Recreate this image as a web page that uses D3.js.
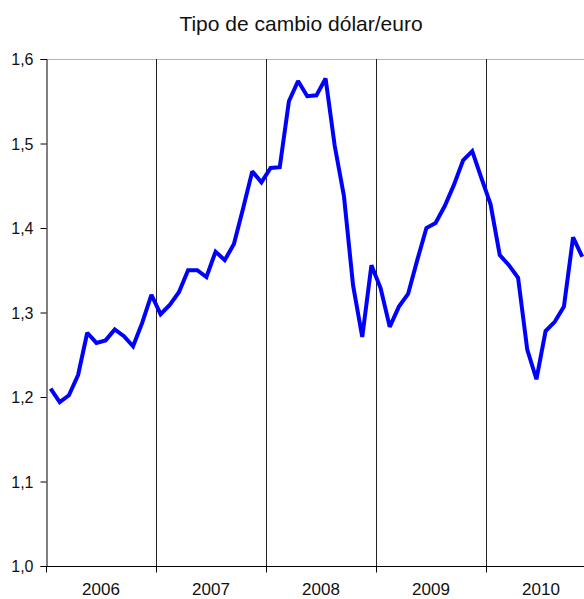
<!DOCTYPE html>
<html>
<head>
<meta charset="utf-8">
<script src="https://cdn.jsdelivr.net/npm/d3@7"></script>
<style>
body { margin: 0; background: #fff; }
svg { display: block; }
</style>
</head>
<body>
<script>
// monthly dollar/euro rate, Jan 2006 .. Nov 2010
var years = ["2006", "2007", "2008", "2009", "2010"];
var rate = [
  1.210, 1.194, 1.202, 1.226, 1.276, 1.264, 1.267, 1.280, 1.272, 1.260, 1.288, 1.321,
  1.298, 1.309, 1.324, 1.350, 1.350, 1.342, 1.372, 1.362, 1.381, 1.423, 1.467, 1.454,
  1.471, 1.472, 1.550, 1.574, 1.556, 1.557, 1.577, 1.497, 1.438, 1.332, 1.271, 1.356,
  1.329, 1.283, 1.307, 1.322, 1.362, 1.400, 1.406, 1.426, 1.451, 1.480, 1.491, 1.459,
  1.428, 1.368, 1.356, 1.341, 1.256, 1.221, 1.278, 1.289, 1.307, 1.389, 1.366
];
var yTicks = [1.0, 1.1, 1.2, 1.3, 1.4, 1.5, 1.6];

var font = "'Liberation Sans', Arial, sans-serif";

var margin = {top: 59, right: 0, bottom: 33, left: 46},
    width = 550,
    height = 599 - margin.top - margin.bottom;

var svg = d3.select("body").append("svg")
    .attr("width", 584)
    .attr("height", 599);

svg.append("text")
    .attr("x", 301)
    .attr("y", 31)
    .attr("text-anchor", "middle")
    .attr("font-family", font)
    .attr("font-size", "21px")
    .attr("fill", "#111")
    .text("Tipo de cambio dólar/euro");

var g = svg.append("g")
    .attr("transform", "translate(" + margin.left + "," + margin.top + ")");

// months on x, each year 12 months wide
var x = d3.scaleLinear().domain([0, years.length * 12]).range([0, width]);
var y = d3.scaleLinear().domain([1.0, 1.6]).range([height, 0]);

// top border
g.append("line")
    .attr("x1", 0).attr("x2", width)
    .attr("y1", 0.5).attr("y2", 0.5)
    .attr("stroke", "#b8b8b8");

// year separators
g.selectAll(".sep")
    .data(d3.range(1, years.length))
    .enter().append("line")
    .attr("class", "sep")
    .attr("x1", function(d) { return Math.round(x(d * 12)) + 0.5; })
    .attr("x2", function(d) { return Math.round(x(d * 12)) + 0.5; })
    .attr("y1", 0)
    .attr("y2", height)
    .attr("stroke", "#222");

// y axis
var yAxis = g.append("g")
    .attr("transform", "translate(0.5,0)")
    .call(d3.axisLeft(y)
        .tickValues(yTicks)
        .tickSize(6)
        .tickPadding(7)
        .tickFormat(function(d) { return d3.format(".1f")(d).replace(".", ","); }));

// x axis, ticks on year boundaries
var xAxis = g.append("g")
    .attr("transform", "translate(0," + (height + 0.5) + ")")
    .call(d3.axisBottom(x)
        .tickValues(d3.range(0, years.length * 12 + 1, 12))
        .tickSize(6)
        .tickFormat(""));

[yAxis, xAxis].forEach(function(a) {
    a.select(".domain").attr("stroke", "#000");
    a.selectAll(".tick line").attr("stroke", "#000");
    a.selectAll("text")
        .attr("font-family", font)
        .attr("font-size", "16px")
        .attr("fill", "#111");
});
yAxis.selectAll("text").attr("dy", "0.35em");
xAxis.select(".domain").attr("d", "M0,0H" + width);

// year labels centred in each year
g.selectAll(".yr")
    .data(years)
    .enter().append("text")
    .attr("class", "yr")
    .attr("x", function(d, i) { return x(i * 12 + 6); })
    .attr("y", height + 29)
    .attr("text-anchor", "middle")
    .attr("font-family", font)
    .attr("font-size", "17px")
    .attr("fill", "#111")
    .text(function(d) { return d; });

var line = d3.line()
    .x(function(d, i) { return x(i + 0.5); })
    .y(function(d) { return y(d); });

g.append("path")
    .datum(rate)
    .attr("fill", "none")
    .attr("stroke", "#0000ff")
    .attr("stroke-width", 4)
    .attr("stroke-linejoin", "miter")
    .attr("stroke-miterlimit", 2)
    .attr("d", line);
</script>
</body>
</html>
